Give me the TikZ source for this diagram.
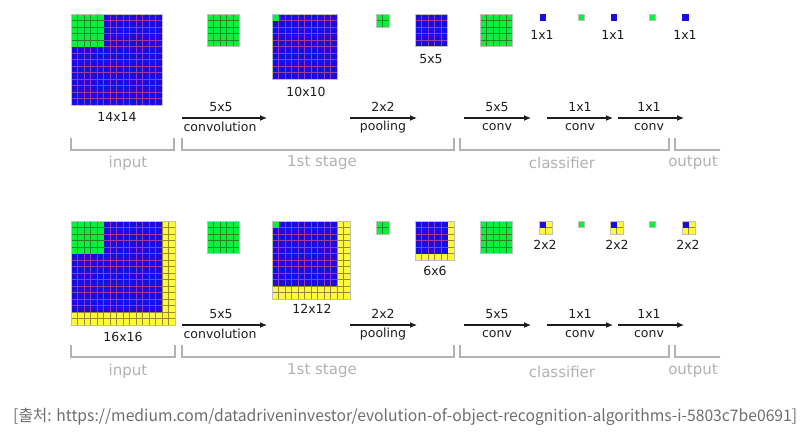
\documentclass[tikz,border=0pt]{standalone}
\usepackage{fontspec}
\setmainfont{DejaVu Sans}
\newfontfamily\krfont{Noto Sans CJK KR}
\usetikzlibrary{arrows.meta}
\definecolor{blueC}{RGB}{26,12,226}
\definecolor{blueL}{RGB}{150,60,175}
\definecolor{greenC}{RGB}{10,240,60}
\definecolor{greenL}{RGB}{30,135,40}
\definecolor{yellowC}{RGB}{255,248,60}
\definecolor{yellowL}{RGB}{150,140,40}
\definecolor{frameC}{RGB}{190,190,190}
\definecolor{txtC}{RGB}{30,30,30}
\definecolor{brC}{RGB}{178,178,178}
\definecolor{arrC}{RGB}{30,30,30}
\definecolor{capC}{RGB}{110,110,110}
\newcommand\cellgrid[6]{%
  \begin{scope}[shift={(#1,#2)}]
    \fill[#5] (0,0) rectangle ({#3*6.5},{#4*6.5});
    \pgfmathtruncatemacro\cgA{#3-1}%
    \pgfmathtruncatemacro\cgB{#4-1}%
    \ifnum\cgA>0 \foreach \i in {1,...,\cgA} {\draw[#6,line width=0.4pt] ({\i*6.5},0) -- ({\i*6.5},{#4*6.5});}\fi
    \ifnum\cgB>0 \foreach \j in {1,...,\cgB} {\draw[#6,line width=0.4pt] (0,{\j*6.5}) -- ({#3*6.5},{\j*6.5});}\fi
  \end{scope}}
\newcommand\gridframe[3]{\draw[frameline] (#1,#2) rectangle ++({#3*6.5},{#3*6.5});}
\begin{document}
\begin{tikzpicture}[x=1pt,y=-1pt,
  dimlab/.style={font=\fontsize{12.5}{13}\selectfont, text=txtC, inner sep=0pt},
  stagelab/.style={font=\fontsize{15}{16}\selectfont, text=brC, inner sep=0pt},
  bracketline/.style={draw=brC, line width=1.3pt},
  oparrow/.style={draw=arrC, line width=1.1pt, -{Latex[length=7pt,width=6pt]}},
  frameline/.style={draw=frameC, line width=0.6pt}]
\useasboundingbox[fill=white] (0,0) rectangle (805,431);

% ================= TOP ROW =================
\cellgrid{71}{14}{14}{14}{blueC}{blueL}
\cellgrid{71}{14}{5}{5}{greenC}{greenL}
\gridframe{71}{14}{14}
\cellgrid{207}{14}{5}{5}{greenC}{greenL}
\gridframe{207}{14}{5}
\cellgrid{272}{14}{10}{10}{blueC}{blueL}
\cellgrid{272}{14}{1}{1}{greenC}{greenL}
\gridframe{272}{14}{10}
\cellgrid{376}{14}{2}{2}{greenC}{greenL}
\gridframe{376}{14}{2}
\cellgrid{415}{14}{5}{5}{blueC}{blueL}
\gridframe{415}{14}{5}
\cellgrid{480}{14}{5}{5}{greenC}{greenL}
\gridframe{480}{14}{5}
\cellgrid{539.5}{14}{1}{1}{blueC}{blueL}
\cellgrid{578}{14}{1}{1}{greenC}{greenL}
\gridframe{578}{14}{1}
\cellgrid{610.5}{14}{1}{1}{blueC}{blueL}
\cellgrid{649}{14}{1}{1}{greenC}{greenL}
\gridframe{649}{14}{1}
\cellgrid{682}{14}{1}{1}{blueC}{blueL}

\node[dimlab] (t14) at (117,117) {14x14};
\node[dimlab] (t10) at (306,92) {10x10};
\node[dimlab] (t5) at (431,59) {5x5};
\node[dimlab] (t1a) at (542,35) {1x1};
\node[dimlab] (t1b) at (613,35) {1x1};
\node[dimlab] (t1c) at (685,35) {1x1};

\coordinate (ta1s) at (182,118); \coordinate (ta1e) at (267,118);
\coordinate (ta2s) at (350,118); \coordinate (ta2e) at (417,118);
\coordinate (ta3s) at (464,118); \coordinate (ta3e) at (531,118);
\coordinate (ta4s) at (547,118); \coordinate (ta4e) at (613,118);
\coordinate (ta5s) at (618,118); \coordinate (ta5e) at (684,118);
\draw[oparrow] (ta1s) -- (ta1e);
\draw[oparrow] (ta2s) -- (ta2e);
\draw[oparrow] (ta3s) -- (ta3e);
\draw[oparrow] (ta4s) -- (ta4e);
\draw[oparrow] (ta5s) -- (ta5e);
\node[dimlab] (tl1a) at (221,107) {5x5};
\node[dimlab] (tl1b) at (220,127) {convolution};
\node[dimlab] (tl2a) at (383,107) {2x2};
\node[dimlab] (tl2b) at (383,127) {pooling};
\node[dimlab] (tl3a) at (497,107) {5x5};
\node[dimlab] (tl3b) at (497,127) {conv};
\node[dimlab] (tl4a) at (580,107) {1x1};
\node[dimlab] (tl4b) at (580,127) {conv};
\node[dimlab] (tl5a) at (649,107) {1x1};
\node[dimlab] (tl5b) at (649,127) {conv};

\draw[bracketline] (71,138) -- (71,150) -- (174,150) -- (174,138);
\draw[bracketline] (182,138) -- (182,150) -- (454,150) -- (454,138);
\draw[bracketline] (460,138) -- (460,150) -- (669,150) -- (669,138);
\begin{scope}
  \clip (0,0) rectangle (720,431);
  \draw[bracketline] (675,138) -- (675,150) -- (730,150);
  \node[stagelab] (tsout) at (693,163) {output};
  \draw[bracketline] (675,345) -- (675,357) -- (730,357);
  \node[stagelab] (bsout) at (693,371) {output};
\end{scope}
\node[stagelab] (tsin) at (128,163) {input};
\node[stagelab] (tsst) at (322,163) {1st stage};
\node[stagelab] (tscl) at (562,163) {classifier};

% ================= BOTTOM ROW =================
\cellgrid{71}{221}{16}{16}{yellowC}{yellowL}
\cellgrid{71}{221}{14}{14}{blueC}{blueL}
\cellgrid{71}{221}{5}{5}{greenC}{greenL}
\gridframe{71}{221}{16}
\cellgrid{207}{221}{5}{5}{greenC}{greenL}
\gridframe{207}{221}{5}
\cellgrid{272}{221}{12}{12}{yellowC}{yellowL}
\cellgrid{272}{221}{10}{10}{blueC}{blueL}
\cellgrid{272}{221}{1}{1}{greenC}{greenL}
\gridframe{272}{221}{12}
\cellgrid{376}{221}{2}{2}{greenC}{greenL}
\gridframe{376}{221}{2}
\cellgrid{415}{221}{6}{6}{yellowC}{yellowL}
\cellgrid{415}{221}{5}{5}{blueC}{blueL}
\gridframe{415}{221}{6}
\cellgrid{480}{221}{5}{5}{greenC}{greenL}
\gridframe{480}{221}{5}
\cellgrid{539}{221}{2}{2}{yellowC}{yellowL}
\cellgrid{539}{221}{1}{1}{blueC}{blueL}
\gridframe{539}{221}{2}
\cellgrid{578}{221}{1}{1}{greenC}{greenL}
\gridframe{578}{221}{1}
\cellgrid{610}{221}{2}{2}{yellowC}{yellowL}
\cellgrid{610}{221}{1}{1}{blueC}{blueL}
\gridframe{610}{221}{2}
\cellgrid{649}{221}{1}{1}{greenC}{greenL}
\gridframe{649}{221}{1}
\cellgrid{682}{221}{2}{2}{yellowC}{yellowL}
\cellgrid{682}{221}{1}{1}{blueC}{blueL}
\gridframe{682}{221}{2}

\node[dimlab] (b16) at (123,337) {16x16};
\node[dimlab] (b12) at (312,309) {12x12};
\node[dimlab] (b6) at (435,271) {6x6};
\node[dimlab] (b2a) at (545,245) {2x2};
\node[dimlab] (b2b) at (617,245) {2x2};
\node[dimlab] (b2c) at (688,245) {2x2};

\coordinate (ba1s) at (182,325); \coordinate (ba1e) at (267,325);
\coordinate (ba2s) at (350,325); \coordinate (ba2e) at (417,325);
\coordinate (ba3s) at (464,325); \coordinate (ba3e) at (531,325);
\coordinate (ba4s) at (547,325); \coordinate (ba4e) at (613,325);
\coordinate (ba5s) at (618,325); \coordinate (ba5e) at (684,325);
\draw[oparrow] (ba1s) -- (ba1e);
\draw[oparrow] (ba2s) -- (ba2e);
\draw[oparrow] (ba3s) -- (ba3e);
\draw[oparrow] (ba4s) -- (ba4e);
\draw[oparrow] (ba5s) -- (ba5e);
\node[dimlab] (bl1a) at (221,314) {5x5};
\node[dimlab] (bl1b) at (220,334) {convolution};
\node[dimlab] (bl2a) at (383,314) {2x2};
\node[dimlab] (bl2b) at (383,334) {pooling};
\node[dimlab] (bl3a) at (497,314) {5x5};
\node[dimlab] (bl3b) at (497,334) {conv};
\node[dimlab] (bl4a) at (580,314) {1x1};
\node[dimlab] (bl4b) at (580,334) {conv};
\node[dimlab] (bl5a) at (649,314) {1x1};
\node[dimlab] (bl5b) at (649,334) {conv};

\draw[bracketline] (71,345) -- (71,357) -- (175,357) -- (175,345);
\draw[bracketline] (182,345) -- (182,357) -- (454,357) -- (454,345);
\draw[bracketline] (460,345) -- (460,357) -- (669,357) -- (669,345);
\node[stagelab] (bsin) at (128,371) {input};
\node[stagelab] (bsst) at (322,371) {1st stage};
\node[stagelab] (bscl) at (562,372) {classifier};

% ================= CAPTION =================
\node[anchor=base west, inner sep=0pt, text=capC] (cap) at (13,421)
  {\resizebox{784pt}{\height}{\krfont\fontsize{16}{16}\selectfont [출처: https://medium.com/datadriveninvestor/evolution-of-object-recognition-algorithms-i-5803c7be0691]}};
\end{tikzpicture}
\end{document}
